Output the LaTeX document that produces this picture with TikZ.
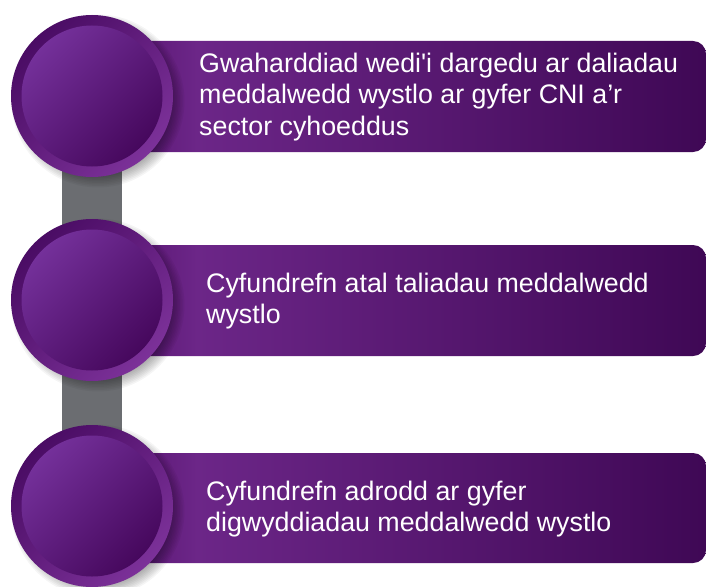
\documentclass[tikz,border=0pt]{standalone}
\usepackage{fontspec}
\setmainfont{Liberation Sans}[Ligatures=TeXOff]
\usetikzlibrary{backgrounds}
\pgfdeclarelayer{canvas}
\pgfsetlayers{canvas,background,main}
\definecolor{ringdark}{HTML}{4A0C64}
\definecolor{ringlight}{HTML}{7C3199}
\definecolor{disclight}{HTML}{74309A}
\definecolor{discdark}{HTML}{46085D}
\definecolor{barlight}{HTML}{6C2688}
\definecolor{barmid}{HTML}{53116C}
\definecolor{bardark}{HTML}{3F0855}
\definecolor{connector}{HTML}{6B6D71}
\pgfdeclarehorizontalshading{barshading}{100bp}{%
  color(0bp)=(barmid); color(25bp)=(barmid); color(33bp)=(barlight);
  color(75bp)=(bardark); color(100bp)=(bardark)}
\tikzset{
  outerdisc/.style={circle, minimum size=162pt, inner sep=0pt,
    top color=ringdark, bottom color=ringlight, shading angle=45},
  innerdisc/.style={circle, minimum size=141pt, inner sep=0pt,
    top color=disclight, bottom color=discdark, shading angle=45},
  barshade/.style={shading=barshading, rounded corners=13pt},
  bartext/.style={anchor=west, align=left, text=white, inner sep=0pt,
    font=\fontsize{26.8}{31.5}\selectfont},
  link/.style={connector, line width=60pt},
  softshadow/.style={black, opacity=0.04}
}
\newcommand{\discshadow}[1]{%
  \foreach \k in {0,...,11}{\fill[softshadow] ([shift={(6,5)}]#1.center) circle ({70+\k*1.5});}}
\begin{document}
\begin{tikzpicture}[x=1pt,y=-1pt]
\useasboundingbox (0,0) rectangle (706,586);
\begin{pgfonlayer}{canvas}
\fill[white] (0,0) rectangle (706,586);
\end{pgfonlayer}
% circles
\node[outerdisc] (c1) at (92,96) {};
\node[innerdisc] (i1) at (c1.center) {};
\node[outerdisc] (c2) at (92,300) {};
\node[innerdisc] (i2) at (c2.center) {};
\node[outerdisc] (c3) at (92,506) {};
\node[innerdisc] (i3) at (c3.center) {};
\begin{pgfonlayer}{background}
  \draw[link] (c1.center) -- (c2.center);
  \draw[link] (c2.center) -- (c3.center);
  \shade[barshade] (100,41) rectangle (706,152);
  \shade[barshade] (100,245) rectangle (706,356);
  \shade[barshade] (100,453) rectangle (706,563);
  \discshadow{c1}
  \discshadow{c2}
  \discshadow{c3}
\end{pgfonlayer}
\node[bartext] (t1) at (199,97) {Gwaharddiad wedi'i dargedu ar daliadau\\meddalwedd wystlo ar gyfer CNI a’r\\sector cyhoeddus};
\node[bartext] (t2) at (206,301) {Cyfundrefn atal taliadau meddalwedd\\wystlo};
\node[bartext] (t3) at (206,509) {Cyfundrefn adrodd ar gyfer\\digwyddiadau meddalwedd wystlo};
\end{tikzpicture}
\end{document}
